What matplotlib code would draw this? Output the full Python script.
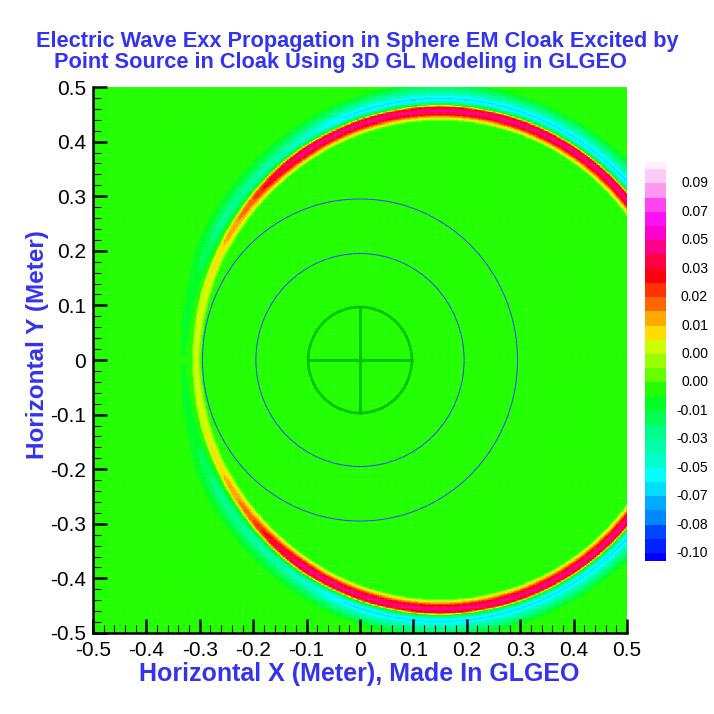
import numpy as np
import matplotlib.pyplot as plt
from matplotlib.colors import ListedColormap, BoundaryNorm
from matplotlib.patches import Circle
import matplotlib.transforms as mtransforms

plt.rcParams['font.family'] = ['Liberation Sans', 'DejaVu Sans']

# flood legend, bottom -> top
level_colors = ['#0022ff', '#0044ff', '#0088ff', '#00aaff', '#00ddff', '#00ffff',
                '#00ffcc', '#00ffaa', '#00ff88', '#00ff55', '#00ff22', '#22ff00',
                '#66ff00', '#99ff00', '#ccff00', '#ffdd00', '#ffaa00', '#ff6600',
                '#ff3300', '#ff0011', '#ff0044', '#ff0088', '#ff00cc', '#ff11f5',
                '#ff44f0', '#ff99f0', '#ffccf5']
under_color = '#0000ff'
over_color = '#fff0fc'
level_bounds = [-0.100, -0.0915, -0.083, -0.075, -0.067, -0.0585, -0.050, -0.0415,
                -0.033, -0.0235, -0.014, -0.006, 0.002, 0.003, 0.004, 0.007,
                0.010, 0.015, 0.020, 0.025, 0.030, 0.040, 0.050, 0.060,
                0.070, 0.080, 0.090, 0.100]
cbar_labels = ['-0.10', '-0.08', '-0.07', '-0.05', '-0.03', '-0.01', '0.00',
               '0.00', '0.01', '0.02', '0.03', '0.05', '0.07', '0.09']

# wave front (point source inside the cloak)
source_xy = (0.15, 0.0)
front_radius = 0.458       # red crest
trough_radius = 0.478      # cyan trough
tail_radius = 0.494
crest_amp, trough_amp, tail_amp = 0.044, -0.056, -0.022
crest_w, trough_w, tail_w = 0.011, 0.011, 0.012
# strength of the front vs angle from the source (deg), weaker behind the cloak
crest_ang = [0, 125, 133, 141, 155, 180]
crest_gain = [1.0, 1.0, 0.75, 0.45, 0.2, 0.1]
trough_ang = [0, 112, 128, 149, 162, 180]
trough_gain = [1.0, 1.0, 0.65, 0.5, 0.2, 0.1]

# cloak outlines
shell_radii = [0.295, 0.195]
core_radius = 0.097

xticks = [-0.5, -0.4, -0.3, -0.2, -0.1, 0, 0.1, 0.2, 0.3, 0.4, 0.5]
xtick_labels = ['-0.5', '-0.4', '-0.3', '-0.2', '-0.1', '0', '0.1', '0.2', '0.3', '0.4', '0.5']
ytick_labels = xtick_labels

title1 = 'Electric Wave Exx Propagation in Sphere EM Cloak Excited by'
title2 = 'Point Source in Cloak Using 3D GL Modeling in GLGEO'
blue = '#3333f0'

# field on a fine grid
n = 800
gx = np.linspace(-0.5, 0.5, n)
X, Y = np.meshgrid(gx, gx)
dx, dy = X - source_xy[0], Y - source_xy[1]
R = np.hypot(dx, dy)
theta = np.degrees(np.abs(np.arctan2(dy, dx)))
g_crest = np.interp(theta, crest_ang, crest_gain)
g_trough = np.interp(theta, trough_ang, trough_gain)
field = (crest_amp * g_crest * np.exp(-((R - front_radius) / crest_w) ** 2)
         + g_trough * (trough_amp * np.exp(-((R - trough_radius) / trough_w) ** 2)
                       + tail_amp * np.exp(-((R - tail_radius) / tail_w) ** 2)))

cmap = ListedColormap(level_colors)
cmap.set_under(under_color)
cmap.set_over(over_color)
norm = BoundaryNorm(level_bounds, cmap.N)

fig = plt.figure(figsize=(7.14, 7.14), dpi=100)
ax = fig.add_axes([93 / 714, 1 - 633 / 714, 534 / 714, 546 / 714])
ax.imshow(field, origin='lower', extent=[-0.5, 0.5, -0.5, 0.5], cmap=cmap,
          norm=norm, interpolation='nearest', aspect='auto')

# faint mesh lines
mesh = np.linspace(-0.5, 0.5, 65)
ax.vlines(mesh, -0.5, 0.5, colors='white', alpha=0.07, linewidth=0.6)
ax.hlines(mesh, -0.5, 0.5, colors='white', alpha=0.07, linewidth=0.6)

for rr in shell_radii:
    ax.add_patch(Circle((0, 0), rr, fill=False, edgecolor='#3c3cff', linewidth=0.7))
ax.add_patch(Circle((0, 0), core_radius, fill=False, edgecolor='#00c400', linewidth=2.0))
ax.plot([-core_radius, core_radius], [0, 0], color='#00c400', linewidth=2.0)
ax.plot([0, 0], [-core_radius, core_radius], color='#00c400', linewidth=2.0)

ax.set_xlim(-0.5, 0.5)
ax.set_ylim(-0.5, 0.5)
for side in ['top', 'right']:
    ax.spines[side].set_visible(False)
for side in ['left', 'bottom']:
    ax.spines[side].set_linewidth(1.8)
ax.set_xticks(xticks)
ax.set_xticklabels(xtick_labels)
ax.set_yticks(xticks)
ax.set_yticklabels(ytick_labels)
ax.set_xticks(np.arange(-0.5, 0.5001, 0.02), minor=True)
ax.set_yticks(np.arange(-0.5, 0.5001, 0.02), minor=True)
ax.tick_params(which='major', direction='in', length=10, width=1.8, labelsize=15, pad=6)
ax.tick_params(which='minor', direction='in', length=6, width=0.8)
ax.tick_params(axis='y', pad=5)

fig.text(357 / 714, 1 - 47 / 714, title1, ha='center', va='baseline',
         fontsize=15.7, fontweight='bold', color=blue)
fig.text(340 / 714, 1 - 68 / 714, title2, ha='center', va='baseline',
         fontsize=15.7, fontweight='bold', color=blue)
fig.text(359 / 714, 1 - 681 / 714, 'Horizontal X (Meter), Made In GLGEO',
         ha='center', va='baseline', fontsize=18, fontweight='bold', color=blue)
fig.text(38 / 714, 1 - 345 / 714, 'Horizontal Y (Meter)', ha='center', va='center',
         rotation=90, fontsize=17.5, fontweight='bold', color=blue)

# legend bar
cax = fig.add_axes([645 / 714, 1 - 561 / 714, 21 / 714, 399 / 714])
for k, c in enumerate(level_colors):
    cax.bar(0.5, 1, bottom=k, width=1, color=c, linewidth=0)
cax.bar(0.5, 0.56, bottom=-0.56, width=1, color=under_color, linewidth=0)
cax.bar(0.5, 0.5, bottom=len(level_colors), width=1, color=over_color, linewidth=0)
cax.set_xlim(0, 1)
cax.set_ylim(-0.56, len(level_colors) + 0.5)
cax.axis('off')
trans = mtransforms.blended_transform_factory(fig.transFigure, cax.transData)
for i, lab in enumerate(cbar_labels):
    fig.text(708 / 714, 2 * i, lab, transform=trans, ha='right', va='center', fontsize=10)

fig.savefig('out.png', dpi=100, facecolor='white')
